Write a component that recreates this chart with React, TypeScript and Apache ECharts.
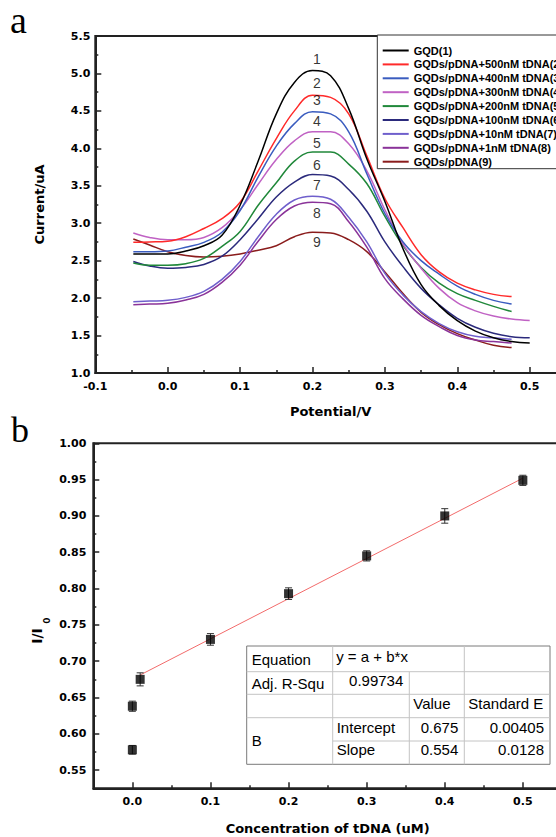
import React, { useEffect, useRef } from 'react';
import * as echarts from 'echarts';

// ---------- Panel a : DPV curves ----------
const potential = [-0.0475, -0.025, 0, 0.025, 0.05, 0.075, 0.1, 0.125, 0.15, 0.175, 0.2, 0.225, 0.25, 0.275, 0.3, 0.325, 0.35, 0.375, 0.4, 0.425, 0.45, 0.475, 0.5];

const seriesNames = [
  'GQD(1)',
  'GQDs/pDNA+500nM tDNA(2)',
  'GQDs/pDNA+400nM tDNA(3)',
  'GQDs/pDNA+300nM tDNA(4)',
  'GQDs/pDNA+200nM tDNA(5)',
  'GQDs/pDNA+100nM tDNA(6)',
  'GQDs/pDNA+10nM tDNA(7)',
  'GQDs/pDNA+1nM tDNA(8)',
  'GQDs/pDNA(9)',
];
const seriesColors = ['#000000', '#ff2a2a', '#3a5cbf', '#c062c4', '#20883a', '#2b2a7c', '#6f5fcc', '#8a3399', '#8a1c1c'];

const curve1 = [2.59, 2.59, 2.59, 2.63, 2.70, 2.84, 3.24, 3.83, 4.46, 4.88, 5.04, 4.97, 4.53, 3.86, 3.29, 2.66, 2.18, 1.90, 1.70, 1.56, 1.47, 1.42, 1.40];
const curve2 = [2.745, 2.75, 2.76, 2.82, 2.93, 3.06, 3.28, 3.70, 4.13, 4.50, 4.71, 4.68, 4.46, 3.90, 3.33, 2.94, 2.58, 2.35, 2.20, 2.11, 2.05, 2.02, null];
const curve3 = [2.62, 2.62, 2.63, 2.68, 2.745, 2.88, 3.17, 3.62, 4.03, 4.33, 4.49, 4.46, 4.22, 3.66, 3.13, 2.75, 2.50, 2.32, 2.16, 2.05, 1.97, 1.92, null];
const curve4 = [2.87, 2.81, 2.78, 2.78, 2.81, 2.94, 3.18, 3.52, 3.85, 4.10, 4.22, 4.22, 4.06, 3.70, 3.18, 2.72, 2.40, 2.13, 1.94, 1.83, 1.76, 1.72, 1.70];
const curve5 = [2.47, 2.44, 2.44, 2.46, 2.53, 2.69, 2.89, 3.24, 3.54, 3.83, 3.95, 3.95, 3.79, 3.53, 3.09, 2.70, 2.41, 2.20, 2.06, 1.97, 1.89, 1.82, null];
const curve6 = [2.49, 2.43, 2.40, 2.41, 2.45, 2.56, 2.78, 3.06, 3.35, 3.55, 3.65, 3.63, 3.45, 3.16, 2.75, 2.42, 2.13, 1.91, 1.73, 1.61, 1.53, 1.485, 1.47];
const curve7 = [1.95, 1.96, 1.97, 2.01, 2.09, 2.25, 2.49, 2.82, 3.12, 3.31, 3.36, 3.32, 3.08, 2.75, 2.33, 2.04, 1.82, 1.66, 1.55, 1.49, 1.47, 1.45, null];
const curve8 = [1.91, 1.92, 1.93, 1.975, 2.05, 2.21, 2.44, 2.76, 3.05, 3.23, 3.28, 3.26, 3.02, 2.68, 2.26, 1.99, 1.77, 1.62, 1.50, 1.44, 1.42, 1.40, null];
const curve9 = [2.79, 2.71, 2.62, 2.57, 2.55, 2.56, 2.59, 2.64, 2.70, 2.82, 2.88, 2.87, 2.78, 2.62, 2.35, 2.06, 1.81, 1.645, 1.525, 1.44, 1.37, 1.34, null];
const curves = [curve1, curve2, curve3, curve4, curve5, curve6, curve7, curve8, curve9];

const peakLabels = ['1', '2', '3', '4', '5', '6', '7', '8', '9'];
const peakLabelX = [0.206, 0.206, 0.206, 0.206, 0.206, 0.206, 0.206, 0.206, 0.206];
const peakLabelY = [5.19, 4.87, 4.64, 4.36, 4.07, 3.78, 3.51, 3.14, 2.75];

const aXTicks = [-0.1, 0, 0.1, 0.2, 0.3, 0.4, 0.5];
const aXMinor = [-0.05, 0.05, 0.15, 0.25, 0.35, 0.45];
const aYTicks = [1.0, 1.5, 2.0, 2.5, 3.0, 3.5, 4.0, 4.5, 5.0, 5.5];
const aYMinor = [1.25, 1.75, 2.25, 2.75, 3.25, 3.75, 4.25, 4.75, 5.25];

// ---------- Panel b : calibration ----------
const concentration = [0, 0, 0.01, 0.1, 0.2, 0.3, 0.4, 0.5];
const ratio = [0.578, 0.638, 0.675, 0.730, 0.793, 0.845, 0.900, 0.949];
const ratioErr = [0.006, 0.007, 0.009, 0.008, 0.008, 0.007, 0.010, 0.007];
const fitX = [0.01, 0.5];
const fitY = [0.681, 0.952];

const bXTicks = [0, 0.1, 0.2, 0.3, 0.4, 0.5];
const bXMinor = [0.05, 0.15, 0.25, 0.35, 0.45];
const bYTicks = [0.55, 0.6, 0.65, 0.7, 0.75, 0.8, 0.85, 0.9, 0.95, 1.0];
const bYMinor = [0.575, 0.625, 0.675, 0.725, 0.775, 0.825, 0.875, 0.925, 0.975];

const tableRows = [
  ['Equation', 'y = a + b*x', ''],
  ['Adj. R-Squ', '0.99734', ''],
  ['', '', 'Value', 'Standard E'],
  ['B', 'Intercept', '0.675', '0.00405'],
  ['', 'Slope', '0.554', '0.0128'],
];

const LABEL_FONT = 'DejaVu Sans';
const ARIAL = 'Liberation Sans';

function mainAxisX(grid: number, min: number, max: number, ticks: number[], digits: number, name: string, nameGap: number) {
  return {
    type: 'value', gridIndex: grid, min, max, position: 'bottom',
    name, nameLocation: 'middle', nameGap,
    nameTextStyle: { fontFamily: LABEL_FONT, fontWeight: 'bold', fontSize: 13, color: '#000' },
    axisLine: { show: true, onZero: false, lineStyle: { color: '#222', width: 2 } },
    axisTick: { show: true, inside: true, length: 6, lineStyle: { color: '#222', width: 1.5 }, customValues: ticks },
    axisLabel: { show: true, customValues: ticks, margin: 8, formatter: (v: number) => v.toFixed(digits), fontFamily: LABEL_FONT, fontWeight: 'bold', fontSize: 11, color: '#000' },
    splitLine: { show: false },
  };
}
function minorAxisX(grid: number, min: number, max: number, ticks: number[]) {
  return {
    type: 'value', gridIndex: grid, min, max, position: 'bottom',
    axisLine: { show: false, onZero: false },
    axisTick: { show: true, inside: true, length: 3, lineStyle: { color: '#222', width: 1.5 }, customValues: ticks },
    axisLabel: { show: false },
    splitLine: { show: false },
  };
}
function mainAxisY(grid: number, min: number, max: number, ticks: number[], digits: number, margin: number, name: string, nameGap: number) {
  return {
    type: 'value', gridIndex: grid, min, max, position: 'left',
    name, nameLocation: 'middle', nameGap, nameRotate: 90,
    nameTextStyle: { fontFamily: LABEL_FONT, fontWeight: 'bold', fontSize: 13, color: '#000' },
    axisLine: { show: true, onZero: false, lineStyle: { color: '#222', width: 2 } },
    axisTick: { show: true, inside: true, length: 6, lineStyle: { color: '#222', width: 1.5 }, customValues: ticks },
    axisLabel: { show: true, customValues: ticks, margin, formatter: (v: number) => v.toFixed(digits), fontFamily: LABEL_FONT, fontWeight: 'bold', fontSize: 11, color: '#000' },
    splitLine: { show: false },
  };
}
function minorAxisY(grid: number, min: number, max: number, ticks: number[]) {
  return {
    type: 'value', gridIndex: grid, min, max, position: 'left',
    axisLine: { show: false, onZero: false },
    axisTick: { show: true, inside: true, length: 3, lineStyle: { color: '#222', width: 1.5 }, customValues: ticks },
    axisLabel: { show: false },
    splitLine: { show: false },
  };
}

function buildTable() {
  const c = [246.7, 332.7, 409.3, 464.3, 550];
  const r = [646, 671.7, 694.3, 717.7, 741, 764.3];
  const inner = { stroke: '#c4c4c4', lineWidth: 1 };
  const els: any[] = [];
  els.push({ type: 'rect', shape: { x: c[0], y: r[0], width: c[4] - c[0], height: r[5] - r[0] }, style: { fill: '#fff', stroke: '#7a7a7a', lineWidth: 1 }, z: 100 });
  const hl = (y: number, x1: number, x2: number) => els.push({ type: 'line', shape: { x1, y1: y, x2, y2: y }, style: inner, z: 101 });
  const vl = (x: number, y1: number, y2: number) => els.push({ type: 'line', shape: { x1: x, y1, x2: x, y2 }, style: inner, z: 101 });
  hl(r[1], c[0], c[4]); hl(r[2], c[0], c[4]); hl(r[3], c[0], c[4]); hl(r[4], c[1], c[4]);
  vl(c[1], r[0], r[5]); vl(c[2], r[1], r[5]); vl(c[3], r[0], r[5]);
  const txt = (text: string, x: number, y: number, align: string) => {
    if (!text) return;
    els.push({ type: 'text', x, y, z: 102, style: { text, fill: '#000', fontFamily: ARIAL, fontSize: 15, align, verticalAlign: 'middle' } });
  };
  const pad = 5;
  txt(tableRows[0][0], c[0] + pad, 659, 'left');
  txt(tableRows[0][1], c[1] + 3.5, 656.5, 'left');
  txt(tableRows[1][0], c[0] + pad, 683, 'left');
  txt(tableRows[1][1], c[2] - 6, 680, 'right');
  txt(tableRows[2][2], c[2] + 4, 703.5, 'left');
  txt(tableRows[2][3], c[3] + 4, 703.5, 'left');
  txt(tableRows[3][0], c[0] + pad, 740, 'left');
  txt(tableRows[3][1], c[1] + 4, 727, 'left');
  txt(tableRows[3][2], c[3] - 6, 727, 'right');
  txt(tableRows[3][3], c[4] - 6, 727, 'right');
  txt(tableRows[4][1], c[1] + 4, 749.5, 'left');
  txt(tableRows[4][2], c[3] - 6, 749.5, 'right');
  txt(tableRows[4][3], c[4] - 6, 749.5, 'right');
  return els;
}

export default function App() {
  const ref = useRef<HTMLDivElement>(null);
  useEffect(() => {
    if (!ref.current) return;
    const chart = echarts.init(ref.current, undefined, { renderer: 'svg' });

    const lineSeries = curves.map((vals, i) => ({
      name: seriesNames[i],
      type: 'line',
      xAxisIndex: 0,
      yAxisIndex: 0,
      smooth: 0.4,
      symbol: 'none',
      showSymbol: false,
      clip: true,
      lineStyle: { color: seriesColors[i], width: 1.5 },
      itemStyle: { color: seriesColors[i] },
      data: potential.map((x, j) => [x, vals[j]]).filter((p) => p[1] !== null),
      z: 3 + (9 - i) * 0.01,
    }));

    const option: any = {
      animation: false,
      backgroundColor: '#fff',
      grid: [
        { left: 95.3, top: 36, width: 470.6, height: 337, show: true, borderColor: '#222', borderWidth: 2, backgroundColor: 'transparent' },
        { left: 93.3, top: 443.3, width: 468.6, height: 345, show: true, borderColor: '#222', borderWidth: 2, backgroundColor: 'transparent' },
      ],
      xAxis: [
        mainAxisX(0, -0.1, 0.55, aXTicks, 1, 'Potential/V', 32),
        minorAxisX(0, -0.1, 0.55, aXMinor),
        mainAxisX(1, -0.05, 0.55, bXTicks, 1, 'Concentration of tDNA (uM)', 34),
        minorAxisX(1, -0.05, 0.55, bXMinor),
      ],
      yAxis: [
        mainAxisY(0, 1.0, 5.5, aYTicks, 1, 5, 'Current/uA', 49),
        minorAxisY(0, 1.0, 5.5, aYMinor),
        mainAxisY(1, 0.525, 1.0, bYTicks, 2, 7, '', 0),
        minorAxisY(1, 0.525, 1.0, bYMinor),
      ],
      legend: {
        data: seriesNames.map((n) => ({ name: n, icon: 'rect' })),
        orient: 'vertical',
        left: 377.3,
        top: 35,
        padding: [9.5, 6, 1, 5.4],
        itemGap: 1.9,
        itemWidth: 26,
        itemHeight: 2,
        selectedMode: false,
        backgroundColor: '#fff',
        borderColor: '#333',
        borderWidth: 1,
        borderRadius: 0,
        textStyle: { fontFamily: ARIAL, fontWeight: 'bold', fontSize: 11, color: '#000', lineHeight: 12 },
        z: 20,
      },
      graphic: [
        { type: 'text', x: 10, y: 1, style: { text: 'a', fill: '#000', fontFamily: 'Liberation Serif', fontSize: 38, align: 'left', verticalAlign: 'top' } },
        { type: 'text', x: 11, y: 412, style: { text: 'b', fill: '#000', fontFamily: 'Liberation Serif', fontSize: 36, align: 'left', verticalAlign: 'top' } },
        { type: 'text', x: 37, y: 636, rotation: Math.PI / 2, style: { text: 'I/I', fill: '#000', fontFamily: LABEL_FONT, fontWeight: 'bold', fontSize: 14, align: 'center', verticalAlign: 'middle' } },
        { type: 'text', x: 47, y: 620.5, rotation: Math.PI / 2, style: { text: '0', fill: '#000', fontFamily: LABEL_FONT, fontWeight: 'bold', fontSize: 9, align: 'center', verticalAlign: 'middle' } },
        ...buildTable(),
      ],
      series: [
        ...lineSeries,
        {
          type: 'scatter',
          xAxisIndex: 0,
          yAxisIndex: 0,
          symbolSize: 1,
          itemStyle: { color: 'rgba(0,0,0,0)' },
          label: { show: true, position: 'inside', formatter: '{b}', fontFamily: ARIAL, fontSize: 14, color: '#000' },
          data: peakLabels.map((t, i) => ({ name: t, value: [peakLabelX[i], peakLabelY[i]] })),
          z: 5,
        },
        {
          type: 'line',
          xAxisIndex: 2,
          yAxisIndex: 2,
          symbol: 'none',
          lineStyle: { color: '#f26b6b', width: 1 },
          data: fitX.map((x, i) => [x, fitY[i]]),
          z: 2,
        },
        {
          type: 'custom',
          xAxisIndex: 2,
          yAxisIndex: 2,
          coordinateSystem: 'cartesian2d',
          encode: { x: 0, y: 1 },
          data: concentration.map((x, i) => [x, ratio[i], ratioErr[i]]),
          renderItem: (params: any, api: any) => {
            const x = api.value(0), y = api.value(1), e = api.value(2);
            const top = api.coord([x, y + e]);
            const bot = api.coord([x, y - e]);
            const hw = 3.5;
            const st = { stroke: '#333', lineWidth: 1 };
            return {
              type: 'group',
              children: [
                { type: 'line', shape: { x1: top[0], y1: top[1], x2: bot[0], y2: bot[1] }, style: st },
                { type: 'line', shape: { x1: top[0] - hw, y1: top[1], x2: top[0] + hw, y2: top[1] }, style: st },
                { type: 'line', shape: { x1: bot[0] - hw, y1: bot[1], x2: bot[0] + hw, y2: bot[1] }, style: st },
              ],
            };
          },
          z: 3,
        },
        {
          type: 'scatter',
          xAxisIndex: 2,
          yAxisIndex: 2,
          symbol: 'rect',
          symbolSize: 9,
          itemStyle: { color: '#000' },
          data: concentration.map((x, i) => [x, ratio[i]]),
          z: 4,
        },
      ],
    };
    chart.setOption(option);
    return () => chart.dispose();
  }, []);

  return (
    <div style={{ position: 'absolute', left: 0, top: 0, width: 556, height: 837, overflow: 'hidden', background: '#fff' }}>
      <div ref={ref} style={{ position: 'absolute', left: 0, top: 0, width: 600, height: 837 }} />
    </div>
  );
}
